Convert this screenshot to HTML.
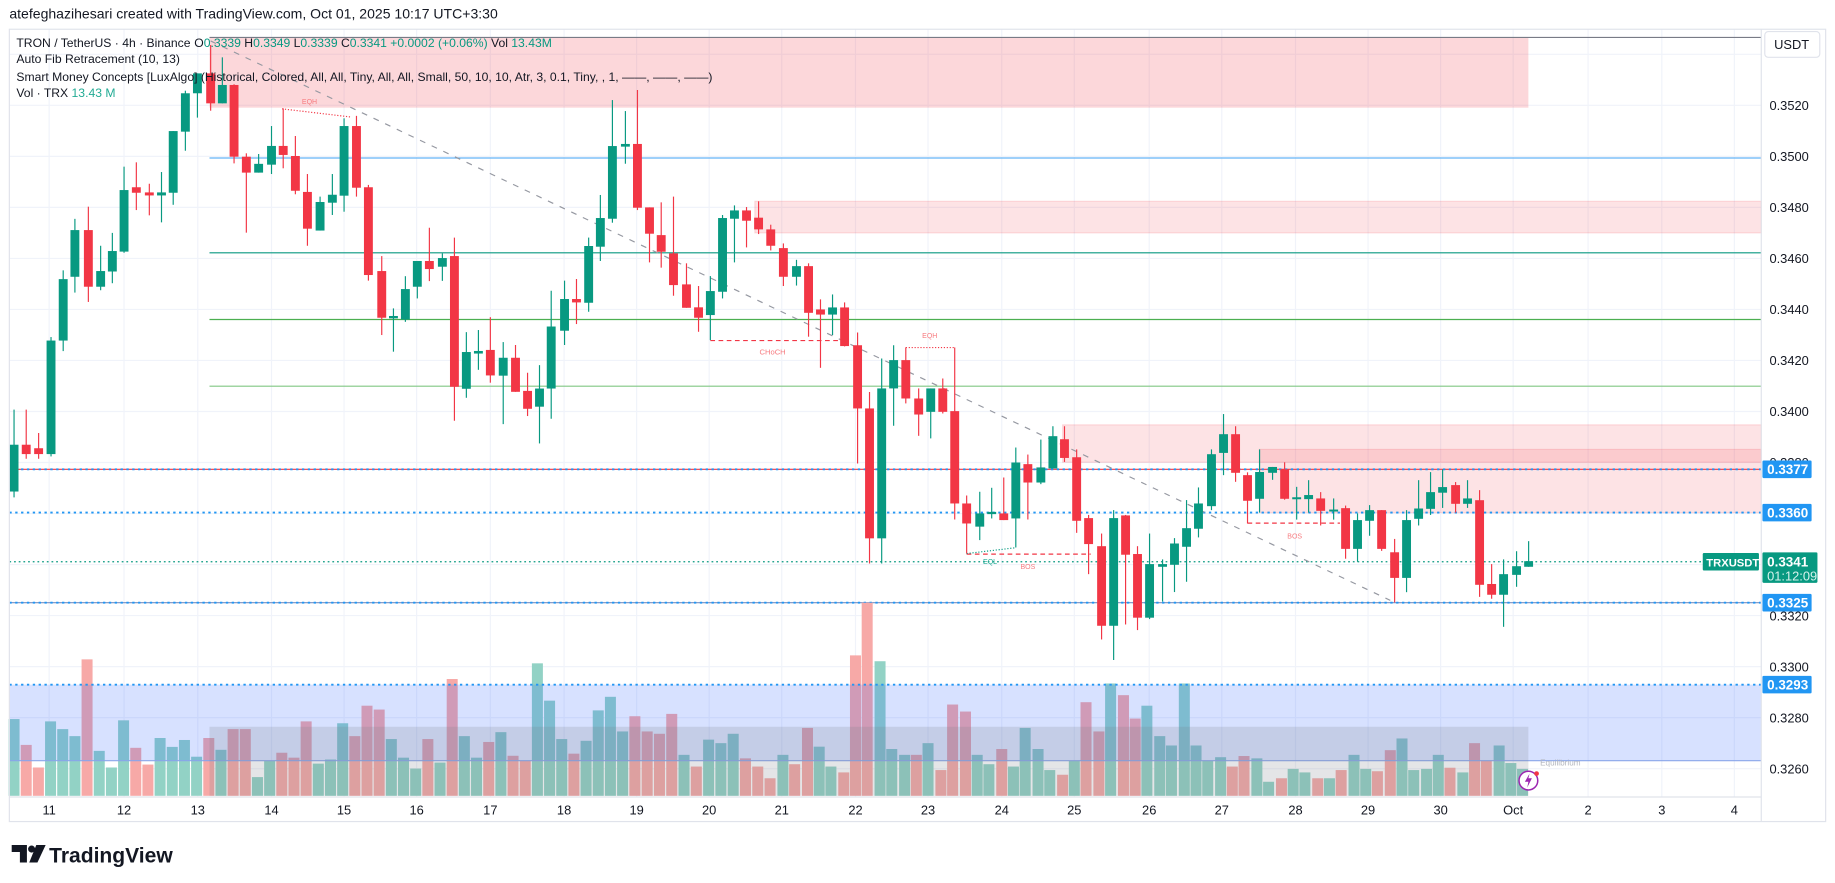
<!DOCTYPE html>
<html><head><meta charset="utf-8">
<style>
html,body{margin:0;padding:0;background:#fff;}
svg{display:block;}
text{font-family:"Liberation Sans",Arial,sans-serif;}
</style></head>
<body>
<svg id="s" width="1835" height="883" viewBox="0 0 1568 754.5" preserveAspectRatio="none" xmlns="http://www.w3.org/2000/svg">
<rect x="0" y="0" width="1568" height="755" fill="#fff"/>
<g id="grid"></g>
<rect x="179" y="32" width="1127" height="60" fill="#f23645" fill-opacity="0.2"/>
<rect x="645" y="172" width="860" height="27" fill="#f23645" fill-opacity="0.14" stroke="#f23645" stroke-opacity="0.15"/>
<rect x="908" y="363" width="597" height="32" fill="#f23645" fill-opacity="0.14" stroke="#f23645" stroke-opacity="0.15"/>
<rect x="1076" y="384" width="429" height="54" fill="#f23645" fill-opacity="0.14" stroke="#f23645" stroke-opacity="0.15"/>
<line x1="179" y1="32" x2="1505" y2="32" stroke="#787b86" stroke-width="1"/>
<line x1="179" y1="135" x2="1505" y2="135" stroke="#64b5f6" stroke-width="1"/>
<line x1="179" y1="216" x2="1505" y2="216" stroke="#089981" stroke-width="1"/>
<line x1="179" y1="273" x2="1505" y2="273" stroke="#4caf50" stroke-width="1"/>
<line x1="179" y1="330" x2="1505" y2="330" stroke="#81c784" stroke-width="1"/>
<line x1="8" y1="401" x2="1505" y2="401" stroke="#f23645" stroke-width="1"/>
<line x1="8" y1="401" x2="1505" y2="401" stroke="#2196f3" stroke-width="1.6" stroke-dasharray="2,3"/>
<line x1="8" y1="438" x2="1505" y2="438" stroke="#2196f3" stroke-width="1.6" stroke-dasharray="2,3"/>
<line x1="8" y1="515" x2="1505" y2="515" stroke="#7a8fc0" stroke-width="1"/>
<line x1="8" y1="515" x2="1505" y2="515" stroke="#2196f3" stroke-width="1.6" stroke-dasharray="2,3"/>
<line x1="8" y1="480" x2="1455" y2="480" stroke="#089981" stroke-width="1" stroke-dasharray="1.5,2.5"/>
<line x1="180" y1="35" x2="1188" y2="513" stroke="#9598a1" stroke-width="1" stroke-dasharray="5,6"/>
<polyline points="241,93 300,100" fill="none" stroke="#f23645" stroke-width="1" stroke-dasharray="1,1.5"/>
<text x="258" y="89" font-size="6" fill="#f77c80">EQH</text>
<line x1="607" y1="291" x2="718" y2="291" stroke="#f23645" stroke-width="1" stroke-dasharray="4,3"/>
<text x="649" y="303" font-size="6.5" fill="#f77c80">CHoCH</text>
<polyline points="774,297 815,297" fill="none" stroke="#f23645" stroke-width="1" stroke-dasharray="1,1.5"/>
<text x="788" y="289" font-size="6" fill="#f77c80">EQH</text>
<line x1="826" y1="473.5" x2="932" y2="473.5" stroke="#f23645" stroke-width="1" stroke-dasharray="4,3"/>
<line x1="826" y1="473" x2="868" y2="468" stroke="#089981" stroke-width="1" stroke-dasharray="1,1.5"/>
<text x="840" y="482" font-size="6" fill="#22ab94">EQL</text>
<text x="872" y="486" font-size="6" fill="#f77c80">BOS</text>
<line x1="1066" y1="447" x2="1145" y2="447" stroke="#f23645" stroke-width="1" stroke-dasharray="4,3"/>
<text x="1100" y="460" font-size="6" fill="#f77c80">BOS</text>
<g id="candles"></g>
<g id="vol"></g>
<rect x="8" y="585" width="1497" height="65" fill="#2962ff" fill-opacity="0.19"/>
<line x1="8" y1="650" x2="1505" y2="650" stroke="#8aa6ea" stroke-width="1"/>
<line x1="8" y1="585" x2="1505" y2="585" stroke="#2196f3" stroke-width="1.6" stroke-dasharray="2,3"/>
<rect x="179" y="621" width="1127" height="59" fill="#787b86" fill-opacity="0.2"/>
<text x="1316" y="654" font-size="7" fill="#b2b5be">Equilibrium</text>
<circle cx="1306" cy="667" r="8" fill="#fff" stroke="#9c27b0" stroke-width="1.3"/>
<path d="M1307,661 L1303,668 L1306,668 L1305,673 L1309,665 L1306,665 Z" fill="#9c27b0"/>
<circle cx="1313" cy="661" r="2" fill="#f23645"/>
<rect x="8" y="25" width="1552" height="677" fill="none" stroke="#e0e3eb" stroke-width="1"/>
<line x1="1505" y1="25" x2="1505" y2="702" stroke="#e0e3eb"/>
<line x1="8" y1="681" x2="1505" y2="681" stroke="#e0e3eb"/>
<g id="axis"></g>
<rect x="1508" y="27" width="47" height="22" rx="3" fill="#fff" stroke="#e0e3eb"/>
<text x="1516" y="42" font-size="11" fill="#131722">USDT</text>
<rect x="1506" y="393.5" width="42" height="15" rx="1" fill="#2196f3"/><text x="1510" y="405" font-size="11.5" font-weight="bold" fill="#fff">0.3377</text>
<rect x="1506" y="430.5" width="42" height="15" rx="1" fill="#2196f3"/><text x="1510" y="442" font-size="11.5" font-weight="bold" fill="#fff">0.3360</text>
<rect x="1506" y="507.5" width="42" height="15" rx="1" fill="#2196f3"/><text x="1510" y="519" font-size="11.5" font-weight="bold" fill="#fff">0.3325</text>
<rect x="1506" y="577.5" width="42" height="15" rx="1" fill="#2196f3"/><text x="1510" y="589" font-size="11.5" font-weight="bold" fill="#fff">0.3293</text>
<rect x="1506" y="472" width="47" height="26" rx="1" fill="#089981"/>
<text x="1510" y="484" font-size="11.5" font-weight="bold" fill="#fff">0.3341</text>
<text x="1510" y="496" font-size="11" fill="#d6f2ec">01:12:09</text>
<rect x="1455" y="472.5" width="48" height="15" rx="1" fill="#089981"/>
<text x="1458" y="484" font-size="9.6" font-weight="bold" fill="#fff">TRXUSDT</text>
<text x="8" y="16" font-size="12" fill="#131722">atefeghazihesari created with TradingView.com, Oct 01, 2025 10:17 UTC+3:30</text>
<text x="14" y="40" font-size="10.4" fill="#131722">TRON / TetherUS · 4h · Binance<tspan x="166">O</tspan><tspan fill="#089981">0.3339</tspan> H<tspan fill="#089981">0.3349</tspan> L<tspan fill="#089981">0.3339</tspan> C<tspan fill="#089981">0.3341 +0.0002 (+0.06%)</tspan>  Vol <tspan fill="#089981">13.43M</tspan></text>
<text x="14" y="54" font-size="10.4" fill="#131722">Auto Fib Retracement (10, 13)</text>
<text x="14" y="69" font-size="10.4" fill="#131722">Smart Money Concepts [LuxAlgo] (Historical, Colored, All, All, Tiny, All, All, Small, 50, 10, 10, Atr, 3, 0.1, Tiny, , 1, ——, ——, ——)</text>
<text x="14" y="83" font-size="10.4" fill="#131722">Vol · TRX  <tspan fill="#22ab94">13.43 M</tspan></text>
<path d="M10,722 h13 v15 h-6 v-9 h-7 z" fill="#131722"/>
<circle cx="27" cy="725.5" r="3" fill="#131722"/>
<path d="M31,722 h8 l-7,15 h-7 z" fill="#131722"/>
<text x="42" y="737" font-size="18" font-weight="bold" fill="#131722">TradingView</text>
</svg>
<script>
var NS="http://www.w3.org/2000/svg";
function el(p,t,a){var e=document.createElementNS(NS,t);for(var k in a)e.setAttribute(k,a[k]);document.getElementById(p).appendChild(e);return e;}
var days=[[42,"11"],[106,"12"],[169,"13"],[232,"14"],[294,"15"],[356,"16"],[419,"17"],[482,"18"],[544,"19"],[606,"20"],[668,"21"],[731,"22"],[793,"23"],[856,"24"],[918,"25"],[982,"26"],[1044,"27"],[1107,"28"],[1169,"29"],[1231,"30"],[1293,"Oct"],[1357,"2"],[1420,"3"],[1482,"4"]];
days.forEach(function(d){el("grid","line",{x1:d[0],y1:25,x2:d[0],y2:681,stroke:"#f0f3fa","stroke-width":1});
 var t=el("axis","text",{x:d[0],y:696,"font-size":11,fill:"#131722","text-anchor":"middle"});t.textContent=d[1];});
function py(p){return 90+(0.3520-p)/0.002*43.6;}
var pl=[0.3520,0.3500,0.3480,0.3460,0.3440,0.3420,0.3400,0.3380,0.3320,0.3300,0.3280,0.3260];
for(var p=0.3540;p>0.3250;p-=0.002){var y=py(p);if(y<25)continue;el("grid","line",{x1:8,y1:y,x2:1505,y2:y,stroke:"#f0f3fa","stroke-width":1});}
pl.forEach(function(p){var t=el("axis","text",{x:1512,y:py(p)+4,"font-size":11,fill:"#131722"});t.textContent=p.toFixed(4);});
var C=[[12,420,380,350,425],[22.4,380,388,350,392],[33,383,388,370,392],[43.6,388,291,288,390],[54,291,238.5,231,300],[64,236.5,196.6,187,250],[75.5,196.6,245,176.6,258],[86,245,231.6,210,248],[96,232,214.5,199,242],[106,215,162.4,142.4,216],[116.5,160,164.7,138.7,179.5],[127.6,164.4,167,157,184],[138,167,164.4,147,190],[148,164.7,112,112,175],[158.4,112.5,79.7,77.5,128.8],[168.7,79.7,62.7,62.7,100.5],[180,62.7,88.3,38.5,94.6],[190,88.3,72.6,49,88.3],[200,72.6,133.9,72,139.6],[210.5,133.9,147.5,131,198.8],[221,147.5,140,131.6,147.5],[232,140.7,124.7,107.7,148.7],[242,124.7,132.4,92.6,143.8],[252.4,133.3,163,116.2,166],[262.7,164,195.4,148.7,210],[273.5,197,172.6,168,197],[284,173.2,166.4,148.7,183.7],[294,167.2,107.7,101.1,180.9],[304.6,107.7,160.4,99,168],[314.8,160,235,158,239.8],[326.2,231.6,271.5,218.8,286.3],[336.2,272,270,263.5,300.5],[346.4,273,247,236,275],[356.6,245,223,223,255],[366.9,223,229.9,194.6,240.2],[378,227.9,220.5,216.5,240],[388.3,218.8,330.5,203,359.5],[398.5,332.2,300.8,283.8,339.9],[408.8,301.5,300.5,282,316],[419,299,320.8,271,327],[430,321,305.7,292.3,362.4],[440.5,305.7,334.8,294.8,334.8],[450.8,334,349.3,318.5,355.5],[461,347.5,332,312,378.9],[471,332,279,248.4,357.8],[482.4,282.6,255.5,239.8,294.8],[492.6,255.5,258.4,238.4,276.9],[503,258.7,210.2,203,266.4],[513,210.8,186.3,166.6,223],[523.3,186.9,124.8,85.5,190.3],[534.4,125.3,123,94.9,139.9],[544.7,123,177.5,76.9,179.5],[555,177.2,199.7,177.2,224.2],[565,200.9,215.1,172.9,228.7],[575.5,216.5,243.6,168,252.7],[586.6,243,263,225,263],[596.9,262.6,271.5,244.4,283.5],[607,269.2,248.7,235.9,290.6],[617.4,249.3,186.3,183.7,255],[627.6,186.9,179.8,175.5,224.2],[637.9,179.8,188.6,176.9,211.4],[648.2,186,196,172,200],[658.6,196,210,192,214],[669.4,212,236.5,208,244.4],[680.6,236.5,227.4,222,244],[690.9,227.4,267.3,225,287.7],[701.1,264.4,268.8,255.8,314.3],[711.4,268.8,262.7,251.6,286.3],[721.7,262.7,295.7,258.4,296],[732.8,295,349,284.1,396],[743,349,460,335,481.5],[753.4,460,331.9,306.3,481.5],[763.6,331.9,307.7,295,363.8],[774,307.7,340.5,296.9,344.7],[785,340.5,354.2,331.9,372.4],[795.3,351.9,331.9,331.9,374.6],[805.6,331.9,351.9,323.4,353.3],[815.8,351.3,430.2,296.9,443.9],[826,430.2,447.3,423.4,473],[837.2,450,438.7,420.2,461.5],[847.4,438.7,438,416.8,443],[857.7,438.7,444.4,408,444.4],[868,443,395.2,382.4,467.8],[878.3,396.6,412.3,388.4,443.9],[889.4,412.3,399.4,375.6,413.7],[899.7,400.3,372.7,364.2,400.3],[909.6,375.3,391.3,364.2,394.7],[920,390.7,445,384,455.3],[930.2,442.7,464.9,440,490.6],[941.3,466.7,534.7,455.9,546.4],[951.6,534.7,442.7,435.9,564],[961.8,440.4,474,440,533.6],[972,473.4,527.8,466.7,538.4],[982.3,527.8,482,455.9,529],[993.4,484.3,482,478,514],[1003.6,482.6,464.4,459.8,505.9],[1013.9,467.2,451.3,427.3,497.1],[1024.1,451.8,430.2,416.5,459.2],[1035.2,432.5,388.1,384,435.9],[1045.5,387,371,353.8,406],[1055.8,371,404,364.2,411.7],[1066,406,427.9,403.6,447.3],[1076.3,426.2,403.3,384,438],[1087.4,404,399,399,410],[1097.7,401,426.2,395,427],[1108,426,425.5,416,444],[1118.2,426.5,423,410.3,438],[1128.5,425.9,436.5,420.5,449],[1139.6,436.5,436,425.9,444],[1149.8,434.2,469,432,477.4],[1160,469,444.4,438.7,480],[1170.3,445,435.9,431.6,457.8],[1180.6,435.9,469,435.9,470.7],[1191.7,471.9,493.8,460.5,514.7],[1201.9,493.8,444.4,435.9,506],[1212.2,443.3,434.5,410.3,449],[1222.4,434.8,420.5,403.4,440],[1232.7,421,416.2,401.1,434],[1243.8,414.5,430.5,411.9,438],[1254,430.5,425.9,410.3,434],[1264.3,427.4,499.7,418.8,510],[1274.6,499,508.2,482,511.6],[1284.8,508.2,490.6,478,535.6],[1295.9,491.2,483.8,471,501.4],[1306.2,484.3,479.5,462.4,484.3]];
C.forEach(function(c){var up=c[2]<=c[1];var col=up?"#089981":"#f23645";
 el("candles","line",{x1:c[0],y1:c[3],x2:c[0],y2:c[4],stroke:col,"stroke-width":1});
 var t=Math.min(c[1],c[2]),b=Math.max(c[1],c[2]);if(b-t<1.2){t-=0.6;b+=0.6;}
 el("candles","rect",{x:c[0]-3.8,y:t,width:7.6,height:b-t,fill:col});});
var V1=[[614.4,0],[636.5,1],[655.8,1],[616.4,0],[623,0],[629,0],[563.4,1],[641.6,0],[655.8,0],[615.5,0],[639,1],[653.3,1],[630.6,0],[638.2,0],[632.3,0],[646.6,0],[630.6,1],[640.7,0],[623,1],[623,1],[664,0],[650,0],[643.2,1],[647.4,1],[616.4,1],[652.5,0],[649,0],[618,0],[629,1],[603,1],[606.3,1],[631.5,0],[647.4,0],[656.7,0],[631.5,1],[651.6,0],[580.2,1],[629,0],[647.4,0],[634,1],[625.6,0],[645.8,1],[650,1],[566.8,0],[598.7,0],[631.5,0],[644,1],[633,0],[607,0],[595.4,0]];
var V=[];V1.forEach(function(v,i){V.push([12+i*10.4,v[0],v[1]]);});
var V2=[[532,625,0],[542.5,612,1],[553,625,1],[563.5,627,1],[574,610,1],[584.5,645,0],[595,655,1],[605.5,632,0],[616,635,0],[626.5,627,0],[637,648,1],[647.5,655,1],[658,665,1],[669,645,0],[679,653,1],[690,622,1],[700,638,0],[710,655,0],[721,660,1],[731,560,1],[741,515,1],[752,565,0],[762,640,0],[773,645,0],[783,645,1],[793,635,0],[804,658,1],[814,602,1],[825,608,1],[835,645,0],[845,653,0],[856,640,1],[866,655,0],[876,622,0],[887,640,0],[897,658,0],[908,662,1],[918,650,0],[928,600,1],[939,625,1],[949,584,0],[960,594,1],[970,614,1],[980,603,0],[991,629,0],[1001,637,0],[1012,584,0],[1022,637,0],[1032,650,0],[1043,647,0],[1053,655,1],[1063,646,1],[1074,648,0],[1084,668,0],[1095,665,1],[1105,657,0],[1115,660,0],[1126,665,1],[1136,665,0],[1146,658,1],[1157,645,0],[1167,657,0],[1177,659,1],[1188,641,1],[1198,631,0],[1208,658,0],[1219,657,0],[1229,645,0],[1239,656,1],[1250,660,0],[1260,635,1],[1270,650,1],[1281,637,0],[1291,652,0],[1301,657,0]];
V=V.concat(V2);
V.forEach(function(v){el("vol","rect",{x:v[0]-4.7,y:v[1],width:9.4,height:680-v[1],fill:v[2]?"#f7a9a7":"#92d2c5"});});
</script>
</body></html>
